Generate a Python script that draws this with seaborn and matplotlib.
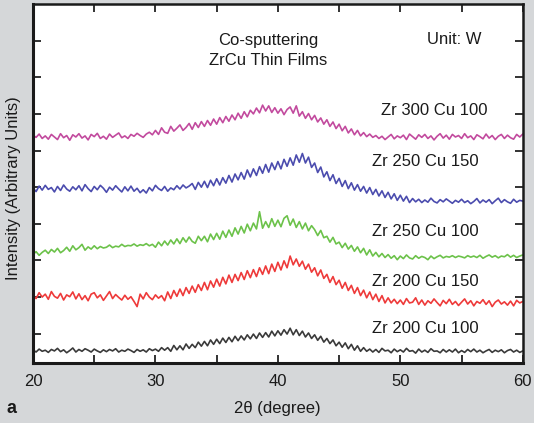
import numpy as np
import pandas as pd
import matplotlib
matplotlib.use("Agg")
import matplotlib.pyplot as plt
import seaborn as sns

two_theta = np.linspace(20, 60, 161)

zr300_cu100 = [
    6.42, 6.36, 6.45, 6.33,  6.40, 6.31, 6.44, 6.37,  6.30, 6.46, 6.35, 6.41,
    6.28, 6.43, 6.37, 6.46,  6.34, 6.40, 6.29, 6.44,  6.38, 6.47, 6.33, 6.39,
    6.31, 6.45, 6.36, 6.42,  6.48, 6.35, 6.40, 6.33,  6.44, 6.39, 6.47, 6.41,
    6.36, 6.45, 6.50, 6.43,
    6.55, 6.44, 6.62, 6.50,  6.47, 6.66, 6.53, 6.61,  6.70, 6.55, 6.63, 6.74,
    6.58, 6.76, 6.63, 6.79,  6.66, 6.82, 6.69, 6.86,  6.72, 6.90, 6.76, 6.93,
    6.80, 6.97, 6.84, 7.02,  6.88, 7.06, 6.92, 7.10,  7.00, 7.16, 7.03, 7.24,
    7.08, 7.22, 7.04, 7.17,  7.02, 7.14, 6.98, 7.12,  7.19, 7.02, 7.22, 6.94,
    7.06, 6.88, 7.01, 6.84,  6.96, 6.78, 6.89, 6.72,  6.84, 6.66, 6.78, 6.60,
    6.72, 6.54, 6.66, 6.48,  6.59, 6.43, 6.55, 6.40,
    6.49, 6.38, 6.45, 6.36,  6.41, 6.33, 6.39, 6.30,  6.37, 6.44, 6.32, 6.40,
    6.35, 6.42, 6.30, 6.45,  6.38, 6.31, 6.43, 6.36,  6.44, 6.33, 6.40, 6.29,
    6.39, 6.46, 6.34, 6.42,  6.31, 6.44, 6.37, 6.41,  6.33, 6.46, 6.35, 6.40,
    6.30, 6.43, 6.38, 6.32,  6.45, 6.34, 6.41, 6.30,  6.39, 6.44, 6.33, 6.42,
    6.35, 6.31, 6.44, 6.37,
    6.45,
]

zr250_cu150 = [
    4.98, 4.88, 5.03, 4.92,  5.05, 4.94, 4.99, 4.87,  5.02, 4.91, 5.06, 4.95,
    4.89, 5.01, 4.93, 5.04,  4.90, 5.07, 4.96, 4.88,  5.02, 4.93, 5.05, 4.97,
    4.86, 5.00, 4.92, 5.04,  4.95, 4.87, 5.01, 4.90,  5.03, 4.89, 4.97, 4.85,
    4.93, 4.84, 4.99, 4.90,  5.05, 4.96, 4.91, 5.02,  4.89, 4.98, 4.93, 5.04,
    4.95, 5.06, 4.98, 5.03,
    5.10, 4.94, 5.13, 5.00,  5.16, 4.99, 5.19, 5.04,  5.23, 5.06, 5.26, 5.11,
    5.32, 5.14, 5.36, 5.20,  5.40, 5.22, 5.47, 5.28,  5.50, 5.32, 5.56, 5.38,
    5.62, 5.41, 5.66, 5.48,  5.70, 5.50, 5.76, 5.57,  5.80, 5.60, 5.88, 5.68,
    5.92, 5.66, 5.82, 5.54,  5.66, 5.40, 5.55, 5.28,  5.42, 5.18, 5.34, 5.10,
    5.24, 5.02, 5.18, 4.96,  5.12, 4.92, 5.07, 4.89,  5.02, 4.84, 4.99, 4.80,
    4.94, 4.76, 4.90, 4.72,  4.86, 4.68, 4.82, 4.64,  4.78, 4.62, 4.75, 4.58,
    4.69, 4.60, 4.67, 4.58,  4.65, 4.59, 4.70, 4.61,  4.57, 4.66, 4.60, 4.68,
    4.62, 4.56, 4.64, 4.59,  4.67, 4.58, 4.63, 4.55,  4.61, 4.69, 4.57, 4.65,
    4.59, 4.66, 4.55, 4.63,  4.70, 4.58, 4.66, 4.60,  4.56, 4.67, 4.59, 4.64,
    4.62,
]

zr250_cu100 = [
    3.16, 3.24, 3.14, 3.22,  3.28, 3.19, 3.30, 3.23,  3.33, 3.21, 3.27, 3.36,
    3.25, 3.40, 3.29, 3.35,  3.44, 3.28, 3.37, 3.31,  3.40, 3.32, 3.38, 3.34,
    3.36, 3.42, 3.35, 3.39,  3.37, 3.44, 3.38, 3.41,  3.40, 3.45, 3.39, 3.43,
    3.41, 3.46, 3.40, 3.44,
    3.36, 3.50, 3.40, 3.53,  3.42, 3.56, 3.45, 3.59,  3.46, 3.62, 3.50, 3.64,
    3.52, 3.47, 3.66, 3.54,  3.66, 3.51, 3.72, 3.57,  3.74, 3.58, 3.80, 3.63,
    3.83, 3.66, 3.89, 3.72,  3.93, 3.75, 3.99, 3.81,  4.02, 3.86, 4.33, 3.88,
    4.06, 3.90, 4.14, 3.93,  4.10, 3.92, 4.15, 4.22,  3.96, 4.13, 3.90, 4.06,
    3.86, 4.02, 3.81, 3.95,  3.84, 3.68, 3.82, 3.62,  3.66, 3.50, 3.63, 3.45,
    3.50, 3.35, 3.47, 3.31,  3.41, 3.25, 3.37, 3.21,  3.33, 3.15, 3.29, 3.12,
    3.22, 3.10, 3.19, 3.08,  3.16, 3.06, 3.13, 3.02,  3.12, 3.05, 3.15, 3.07,
    3.04, 3.13, 3.06, 3.11,  3.08, 3.02, 3.12, 3.05,  3.10, 3.14, 3.07, 3.11,
    3.09, 3.13, 3.08, 3.12,  3.10, 3.07, 3.13, 3.09,  3.12, 3.08, 3.14, 3.06,
    3.11, 3.15, 3.09, 3.13,  3.07, 3.12, 3.10, 3.16,  3.09, 3.14, 3.08, 3.12,
    3.15,
]

zr200_cu150 = [
    2.05, 1.96, 2.12, 2.00,  2.08, 1.94, 2.15, 2.02,  1.97, 2.10, 1.92, 2.06,
    2.01, 2.14, 1.95, 2.09,  1.93, 2.04, 1.90, 2.08,  2.12, 1.98, 2.06, 1.91,
    2.03, 2.15, 1.96, 2.07,  1.99, 1.92, 2.05, 1.94,  2.01, 1.88, 1.74, 2.08,
    1.95, 2.12, 2.00, 1.93,  2.06, 1.97, 2.04, 1.90,
    2.14, 1.96, 2.18, 2.02,  2.22, 2.04, 2.26, 2.10,  2.30, 2.13, 2.34, 2.18,
    2.40, 2.20, 2.44, 2.27,  2.49, 2.30, 2.54, 2.36,  2.60, 2.40, 2.62, 2.45,
    2.67, 2.48, 2.72, 2.53,  2.75, 2.56, 2.80, 2.62,  2.85, 2.64, 2.90, 2.70,
    2.95, 2.74, 2.99, 2.80,  3.12, 2.88, 3.04, 2.84,  2.98, 2.76, 2.90, 2.68,
    2.80, 2.58, 2.74, 2.51,  2.62, 2.40, 2.56, 2.34,  2.46, 2.24, 2.40, 2.18,
    2.32, 2.10, 2.26, 2.04,  2.19, 1.98, 2.14, 1.93,  2.08, 1.88, 2.04, 1.84,
    1.98, 1.84, 1.94, 1.82,  1.92, 1.80, 1.96, 1.84,  1.86, 1.98, 1.80, 1.92,
    1.78, 1.90, 1.83, 1.95,  1.85, 1.76, 1.91, 1.82,  1.94, 1.80, 1.88, 1.77,
    1.86, 1.95, 1.81, 1.90,  1.76, 1.88, 1.83, 1.93,  1.80, 1.90, 1.74, 1.86,
    1.92, 1.81, 1.87, 1.78,  1.89, 1.76, 1.91, 1.84,
    1.88,
]

zr200_cu100 = [
    0.56, 0.50, 0.58, 0.52,  0.55, 0.49, 0.57, 0.53,  0.60, 0.51, 0.56, 0.48,
    0.54, 0.61, 0.50, 0.57,  0.52, 0.59, 0.55, 0.50,  0.58, 0.53, 0.49, 0.56,
    0.51, 0.57, 0.53, 0.59,  0.50, 0.55, 0.52, 0.58,  0.54, 0.49, 0.57, 0.52,
    0.56, 0.50, 0.59, 0.54,  0.58, 0.52, 0.62, 0.55,
    0.62, 0.52, 0.68, 0.56,  0.67, 0.56, 0.72, 0.60,  0.71, 0.62, 0.77, 0.66,
    0.79, 0.67, 0.83, 0.71,  0.85, 0.73, 0.88, 0.76,  0.90, 0.78, 0.93, 0.81,
    0.94, 0.83, 0.97, 0.86,  0.99, 0.87, 1.02, 0.90,  1.03, 0.91, 1.07, 0.94,
    1.08, 0.96, 1.11, 0.99,  1.15, 0.97, 1.11, 0.95,  1.07, 0.91, 1.02, 0.87,
    0.97, 0.82, 0.93, 0.77,  0.87, 0.73, 0.83, 0.67,  0.77, 0.63, 0.75, 0.59,
    0.71, 0.55, 0.67, 0.52,
    0.62, 0.52, 0.58, 0.50,  0.57, 0.49, 0.60, 0.53,  0.55, 0.48, 0.58, 0.51,
    0.56, 0.50, 0.60, 0.52,  0.54, 0.47, 0.58, 0.50,  0.55, 0.49, 0.59, 0.52,
    0.53, 0.48, 0.57, 0.50,  0.56, 0.50, 0.58, 0.48,  0.54, 0.49, 0.57, 0.51,
    0.58, 0.50, 0.55, 0.48,  0.53, 0.57, 0.49, 0.55,  0.51, 0.56, 0.48, 0.54,
    0.57, 0.50, 0.55, 0.49,
    0.53,
]

series_names = ["Zr 300 Cu 100", "Zr 250 Cu 150", "Zr 250 Cu 100",
                "Zr 200 Cu 150", "Zr 200 Cu 100"]
series_values = [zr300_cu100, zr250_cu150, zr250_cu100, zr200_cu150, zr200_cu100]
series_colors = ["#c24a9e", "#4b4cae", "#6cc24a", "#ee3a3a", "#3a3a3a"]
label_y = [7.09, 5.70, 3.79, 2.42, 1.14]
label_x = [52.8, 52.0, 52.0, 52.0, 52.0]

df = pd.concat([
    pd.DataFrame({"two_theta": two_theta, "intensity": vals, "sample": name})
    for name, vals in zip(series_names, series_values)
], ignore_index=True)

sns.set_theme(style="white")
plt.rcParams["font.family"] = ["Liberation Sans", "DejaVu Sans"]

bg = "#d5d7d9"
fig = plt.figure(figsize=(5.34, 4.23), dpi=100, facecolor=bg)
ax = fig.add_axes([0.0618, 0.1418, 0.9172, 0.8487])
ax.set_facecolor("white")

sns.lineplot(data=df, x="two_theta", y="intensity", hue="sample",
             hue_order=series_names, palette=series_colors,
             linewidth=1.2, legend=False, ax=ax, estimator=None, sort=True)

ax.set_xlim(20, 60)
ax.set_ylim(0.2, 10.0)
ax.set_xticks([20, 25, 30, 35, 40, 45, 50, 55, 60])
ax.set_xticklabels(["20", "", "30", "", "40", "", "50", "", "60"])
ax.set_yticks(range(1, 10))
ax.set_yticklabels([])
ax.tick_params(axis="both", direction="in", length=6, width=1.3,
               color="#222222", top=True, right=True, bottom=True, left=True,
               labelsize=12, labelcolor="#1a1a1a", pad=8)
for side, sp in ax.spines.items():
    sp.set_color("#1a1a1a")
    sp.set_visible(True)
    sp.set_linewidth(2.2 if side in ("left", "bottom") else 1.8)

ax.set_xlabel("")
ax.set_ylabel("")

for name, xx, yy in zip(series_names, label_x, label_y):
    ax.text(xx, yy, name, ha="center", va="center", fontsize=12, color="#1a1a1a")

ax.text(39.2, 8.74, "Co-sputtering\nZrCu Thin Films", ha="center", va="center",
        fontsize=12, color="#1a1a1a", linespacing=1.4)
ax.text(54.4, 9.03, "Unit: W", ha="center", va="center", fontsize=12, color="#1a1a1a")

fig.text(0.52, 0.035, "2θ (degree)", ha="center", va="center", fontsize=12, color="#1a1a1a")
fig.text(0.026, 0.555, "Intensity (Arbitrary Units)", ha="center", va="center",
         rotation=90, fontsize=12, color="#1a1a1a")
fig.text(0.022, 0.035, "a", ha="center", va="center", fontsize=13,
         fontweight="bold", color="#1a1a1a")

fig.savefig("out.png", dpi=100, facecolor=bg)
